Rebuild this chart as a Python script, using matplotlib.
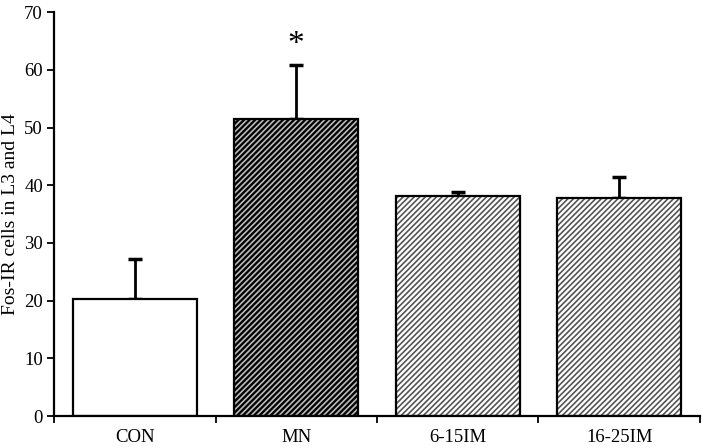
import matplotlib
matplotlib.use('Agg')
import matplotlib.pyplot as plt
import numpy as np

# данные с графика
groups = ['CON', 'MN', '6-15IM', '16-25IM']
means = [20.3, 51.5, 38.1, 37.8]
errors = [6.9, 9.4, 0.7, 3.7]
faces = ['white', 'black', 'white', 'white']
hatch_colors = ['white', '#bbbbbb', '#555555', '#555555']
hatches = ['', '//////', '//////', '//////']

plt.rcParams['font.family'] = ['Liberation Serif', 'DejaVu Serif']
plt.rcParams['hatch.linewidth'] = 1.2

fig = plt.figure(figsize=(7.02, 4.48), dpi=100)
ax = fig.add_axes([0.077, 0.0714, 0.92, 0.9016])

x = np.arange(len(groups))
width = 0.77

# заливка со штриховкой, потом контур
for i in range(len(groups)):
    ax.bar(x[i], means[i], width, color=faces[i], edgecolor=hatch_colors[i],
           hatch=hatches[i], linewidth=0, zorder=2)
ax.bar(x, means, width, fill=False, edgecolor='black', linewidth=1.6, zorder=3)

ax.errorbar(x, means, yerr=[np.zeros(len(x)), errors], fmt='none',
            ecolor='black', elinewidth=2, capsize=5, capthick=2.5, zorder=1)

ax.text(x[1], means[1] + errors[1] + 0.8, '*', ha='center', va='bottom', fontsize=24)

ax.set_xlim(-0.5, 3.5)
ax.set_ylim(0, 70)
ax.set_yticks(range(0, 71, 10))
ax.set_xticks(np.arange(-0.5, 3.6, 1))
ax.set_xticklabels([])
ax.set_xticks(x, minor=True)
ax.set_xticklabels(groups, minor=True, fontsize=13.5)
ax.tick_params(axis='x', which='minor', length=0, pad=9)
ax.tick_params(axis='x', which='major', length=5, width=1.3, direction='out')
ax.tick_params(axis='y', length=5, width=1.3, direction='out', labelsize=13.5, pad=3)

ax.spines['top'].set_visible(False)
ax.spines['right'].set_visible(False)
ax.spines['left'].set_linewidth(1.6)
ax.spines['bottom'].set_linewidth(1.6)

ax.set_ylabel('Fos-IR cells in L3 and L4', fontsize=14, labelpad=4)

fig.savefig('out.png', dpi=100)
